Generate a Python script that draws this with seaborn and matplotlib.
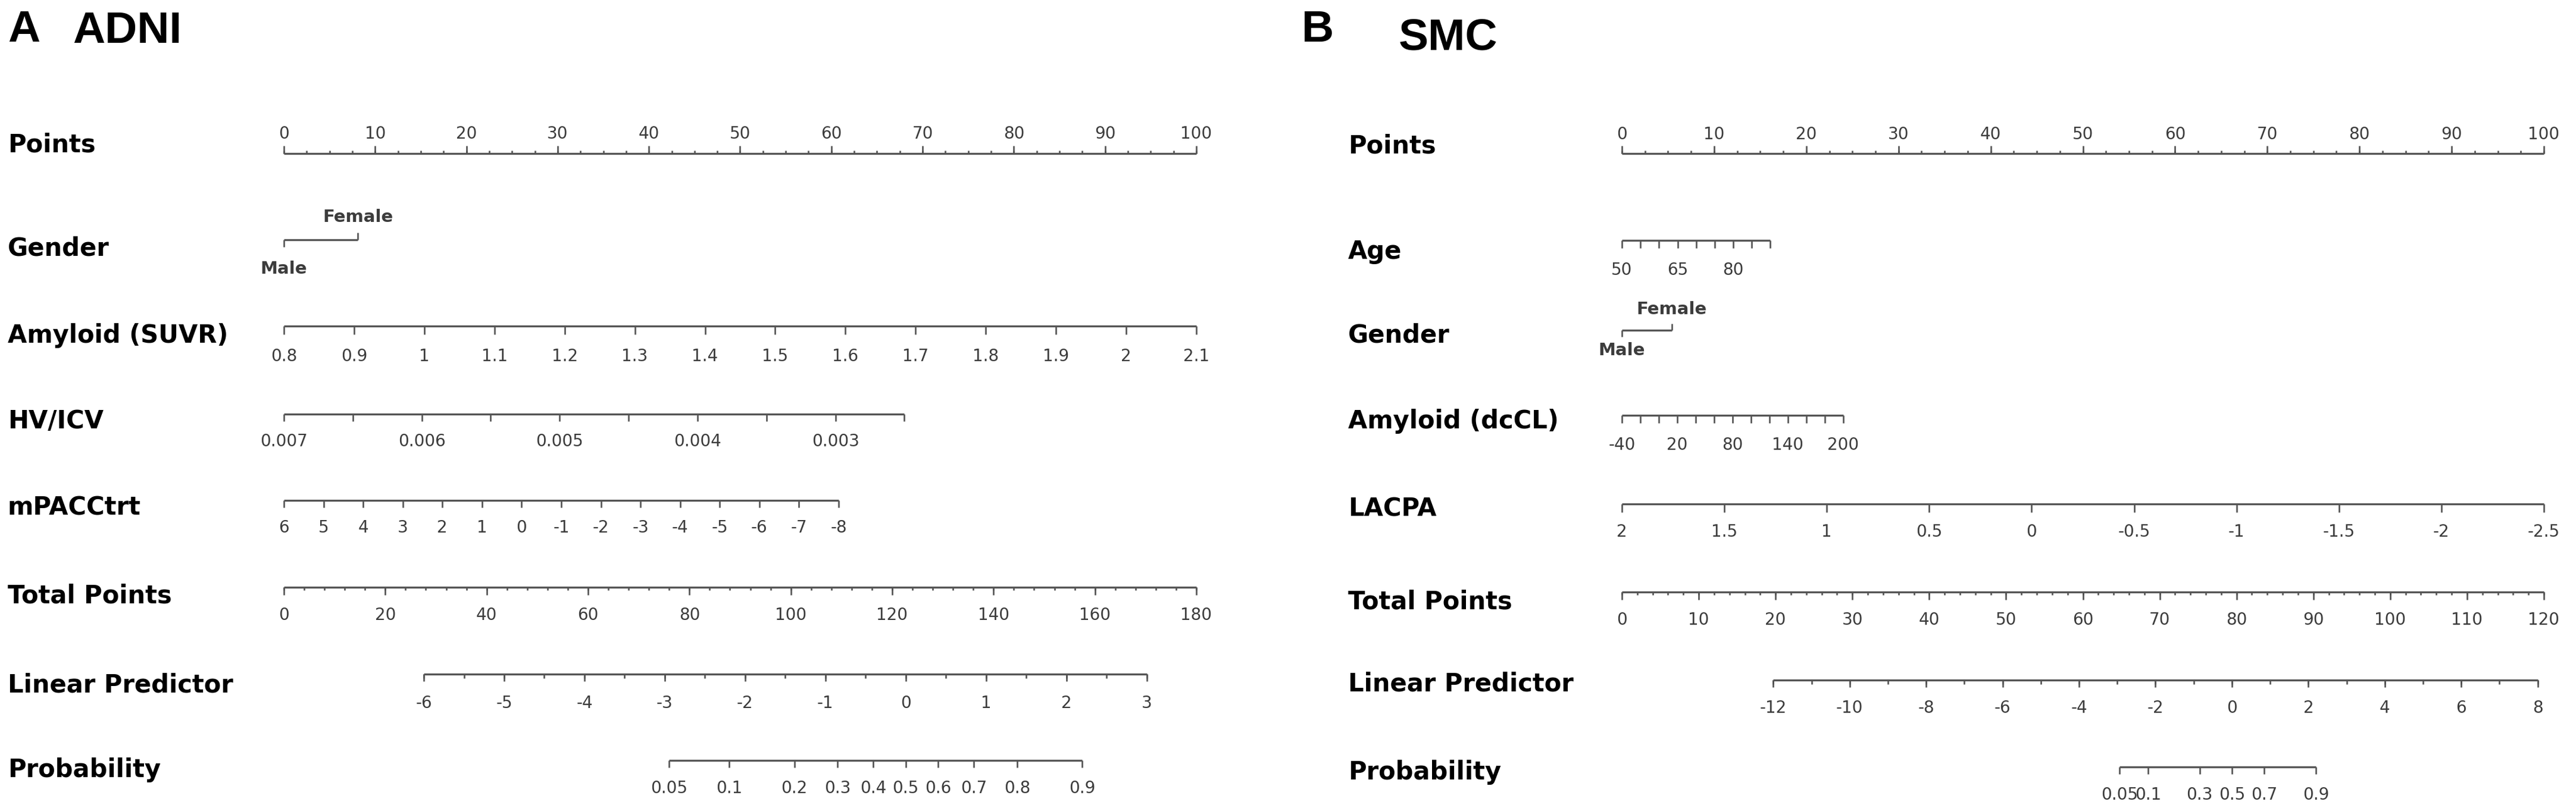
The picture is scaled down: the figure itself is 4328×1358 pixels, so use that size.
import numpy as np
import pandas as pd
import matplotlib
matplotlib.use("Agg")
import matplotlib.pyplot as plt
import seaborn as sns

W, H = 4328, 1358

# ---------------- Panel A : ADNI ----------------
adni_points = [0, 10, 20, 30, 40, 50, 60, 70, 80, 90, 100]
adni_gender = ["Male", "Female"]
adni_gender_pts = [0, 8.1]
adni_suvr = [0.8, 0.9, 1, 1.1, 1.2, 1.3, 1.4, 1.5, 1.6, 1.7, 1.8, 1.9, 2, 2.1]
adni_suvr_pts = [0, 100]            # points at 0.8 and 2.1
adni_hv = [0.007, 0.0065, 0.006, 0.0055, 0.005, 0.0045, 0.004, 0.0035, 0.003, 0.0025]
adni_hv_lab = [0.007, 0.006, 0.005, 0.004, 0.003]
adni_hv_pts = [0, 68.0]             # points at 0.007 and 0.0025
adni_mpacc = [6, 5, 4, 3, 2, 1, 0, -1, -2, -3, -4, -5, -6, -7, -8]
adni_mpacc_pts = [0, 60.8]          # points at 6 and -8
adni_total = [0, 20, 40, 60, 80, 100, 120, 140, 160, 180]
adni_lp = [-6, -5, -4, -3, -2, -1, 0, 1, 2, 3]
adni_lp_total = [27.6, 170.2]       # total points at -6 and 3
adni_prob = [0.05, 0.1, 0.2, 0.3, 0.4, 0.5, 0.6, 0.7, 0.8, 0.9]

# ---------------- Panel B : SMC ----------------
smc_points = [0, 10, 20, 30, 40, 50, 60, 70, 80, 90, 100]
smc_age = [50, 55, 60, 65, 70, 75, 80, 85, 90]
smc_age_lab = [50, 65, 80]
smc_age_pts = [0, 16.1]             # points at 50 and 90
smc_gender = ["Male", "Female"]
smc_gender_pts = [0, 5.4]
smc_dccl = [-40, -20, 0, 20, 40, 60, 80, 100, 120, 140, 160, 180, 200]
smc_dccl_lab = [-40, 20, 80, 140, 200]
smc_dccl_pts = [0, 24.0]            # points at -40 and 200
smc_lacpa = [2, 1.5, 1, 0.5, 0, -0.5, -1, -1.5, -2, -2.5]
smc_lacpa_pts = [0, 100]
smc_total = [0, 10, 20, 30, 40, 50, 60, 70, 80, 90, 100, 110, 120]
smc_lp = [-12, -10, -8, -6, -4, -2, 0, 2, 4, 6, 8]
smc_lp_total = [19.7, 119.2]        # total points at -12 and 8
smc_prob = [0.05, 0.1, 0.3, 0.5, 0.7, 0.9]

LINE = "#555555"
TICKTXT = "#3c3c3c"
LW = 2.4


def lin(v, v0, v1, p0, p1):
    v = np.asarray(v, dtype=float)
    return p0 + (v - v0) / (v1 - v0) * (p1 - p0)


def logit(p):
    p = np.asarray(p, dtype=float)
    return np.log(p / (1 - p))


def fmt(v):
    return f"{v:g}"


def hline(ax, x0, x1, y):
    df = pd.DataFrame({"x": [x0, x1], "y": [y, y]})
    sns.lineplot(data=df, x="x", y="y", ax=ax, color=LINE, linewidth=LW,
                 solid_capstyle="butt")


def scale_row(ax, y, ticks, labels_x, labels, base, minor=None,
              tlen=14, mlen=6, up=False):
    ticks = np.asarray(ticks, dtype=float)
    hline(ax, ticks.min(), ticks.max(), y)
    sgn = -1 if up else 1
    ax.vlines(ticks, y, y + sgn * tlen, color=LINE, linewidth=LW * 0.8)
    if minor is not None:
        ax.vlines(minor, y, y + sgn * mlen, color=LINE, linewidth=LW * 0.8)
    for xv, lab in zip(labels_x, labels):
        ax.text(xv, base, lab, ha="center", va="baseline", fontsize=20,
                color=TICKTXT, clip_on=False)


def var_label(ax, px, base, text, to_pts):
    ax.text(to_pts(px), base, text, ha="left", va="baseline", fontsize=30,
            fontweight="bold", color="black", clip_on=False)


def gender_row(ax, y, pts, names, male_base, female_base, tl):
    hline(ax, pts[0], pts[1], y)
    ax.vlines(pts[0], y, y + tl, color=LINE, linewidth=LW * 0.8)
    ax.vlines(pts[1], y, y - tl, color=LINE, linewidth=LW * 0.8)
    ax.text(pts[0], male_base, names[0], ha="center", va="baseline",
            fontsize=21, fontweight="bold", color=TICKTXT)
    ax.text(pts[1], female_base, names[1], ha="center", va="baseline",
            fontsize=21, fontweight="bold", color=TICKTXT)


def make_axes(fig, px0, px100):
    s = (px100 - px0) / 100.0
    ax = fig.add_axes([0, 0, 1, 1])
    ax.patch.set_alpha(0)
    ax.set_axis_off()
    lims = (-px0 / s, (W - px0) / s)
    return ax, lims, (lambda px: (px - px0) / s)


sns.set_theme(style="white")
plt.rcParams["font.family"] = ["DejaVu Sans"]

fig = plt.figure(figsize=(W / 100, H / 100), dpi=100)

# ======================= A: ADNI =======================
ax, lims, p = make_axes(fig, 477, 2010)
LX = 13

var_label(ax, LX, 255, "Points", p)
scale_row(ax, 258, adni_points, adni_points, [fmt(v) for v in adni_points], 233,
          minor=np.arange(0, 100.1, 2.5), tlen=13, mlen=5, up=True)

var_label(ax, LX, 430, "Gender", p)
gender_row(ax, 403, adni_gender_pts, adni_gender, 460, 373, 12)

var_label(ax, LX, 576, "Amyloid (SUVR)", p)
sx = lin(adni_suvr, adni_suvr[0], adni_suvr[-1], *adni_suvr_pts)
scale_row(ax, 548, sx, sx, [fmt(v) for v in adni_suvr], 607)

var_label(ax, LX, 720, "HV/ICV", p)
hx = lin(adni_hv, adni_hv[0], adni_hv[-1], *adni_hv_pts)
hlx = lin(adni_hv_lab, adni_hv[0], adni_hv[-1], *adni_hv_pts)
scale_row(ax, 696, hx, hlx, [fmt(v) for v in adni_hv_lab], 750, tlen=12)

var_label(ax, LX, 865, "mPACCtrt", p)
mx = lin(adni_mpacc, adni_mpacc[0], adni_mpacc[-1], *adni_mpacc_pts)
scale_row(ax, 841, mx, mx, [fmt(v) for v in adni_mpacc], 895, tlen=12)

var_label(ax, LX, 1013, "Total Points", p)
tx = lin(adni_total, 0, 180, 0, 100)
scale_row(ax, 987, tx, tx, [fmt(v) for v in adni_total], 1042,
          minor=lin(np.arange(0, 180.1, 4), 0, 180, 0, 100), tlen=13, mlen=5)

var_label(ax, LX, 1163, "Linear Predictor", p)
lp_tot = lin(adni_lp, adni_lp[0], adni_lp[-1], *adni_lp_total)
lx = lin(lp_tot, 0, 180, 0, 100)
lmin = lin(lin(np.arange(-6, 3.01, 0.5), adni_lp[0], adni_lp[-1], *adni_lp_total), 0, 180, 0, 100)
scale_row(ax, 1133, lx, lx, [fmt(v) for v in adni_lp], 1190, minor=lmin,
          tlen=12, mlen=7)

var_label(ax, LX, 1306, "Probability", p)
pr_tot = lin(logit(adni_prob), adni_lp[0], adni_lp[-1], *adni_lp_total)
px_ = lin(pr_tot, 0, 180, 0, 100)
scale_row(ax, 1278, px_, px_, [fmt(v) for v in adni_prob], 1333, tlen=12)

ax.set_xlim(*lims)
ax.set_ylim(H, 0)

# ======================= B: SMC =======================
ax, lims, p = make_axes(fig, 2725, 4274)
RX = 2265

var_label(ax, RX, 257, "Points", p)
scale_row(ax, 258, smc_points, smc_points, [fmt(v) for v in smc_points], 234,
          minor=np.arange(0, 100.1, 2.5), tlen=13, mlen=5, up=True)

var_label(ax, RX, 435, "Age", p)
ax_ = lin(smc_age, smc_age[0], smc_age[-1], *smc_age_pts)
alx = lin(smc_age_lab, smc_age[0], smc_age[-1], *smc_age_pts)
scale_row(ax, 404, ax_, alx, [fmt(v) for v in smc_age_lab], 462, tlen=13)

var_label(ax, RX, 576, "Gender", p)
gender_row(ax, 555, smc_gender_pts, smc_gender, 597, 528, 11)

var_label(ax, RX, 720, "Amyloid (dcCL)", p)
dx = lin(smc_dccl, smc_dccl[0], smc_dccl[-1], *smc_dccl_pts)
dlx = lin(smc_dccl_lab, smc_dccl[0], smc_dccl[-1], *smc_dccl_pts)
scale_row(ax, 698, dx, dlx, [fmt(v) for v in smc_dccl_lab], 756, tlen=13)

var_label(ax, RX, 868, "LACPA", p)
cx = lin(smc_lacpa, smc_lacpa[0], smc_lacpa[-1], *smc_lacpa_pts)
scale_row(ax, 847, cx, cx, [fmt(v) for v in smc_lacpa], 902, tlen=14)

var_label(ax, RX, 1023, "Total Points", p)
tx = lin(smc_total, 0, 120, 0, 100)
scale_row(ax, 995, tx, tx, [fmt(v) for v in smc_total], 1050,
          minor=lin(np.arange(0, 120.1, 2), 0, 120, 0, 100), tlen=13, mlen=5)

var_label(ax, RX, 1162, "Linear Predictor", p)
lp_tot = lin(smc_lp, smc_lp[0], smc_lp[-1], *smc_lp_total)
lx = lin(lp_tot, 0, 120, 0, 100)
lmin = lin(lin(np.arange(-12, 8.01, 1), smc_lp[0], smc_lp[-1], *smc_lp_total), 0, 120, 0, 100)
scale_row(ax, 1143, lx, lx, [fmt(v) for v in smc_lp], 1198, minor=lmin,
          tlen=12, mlen=7)

var_label(ax, RX, 1310, "Probability", p)
pr_tot = lin(logit(smc_prob), smc_lp[0], smc_lp[-1], *smc_lp_total)
px_ = lin(pr_tot, 0, 120, 0, 100)
scale_row(ax, 1289, px_, px_, [fmt(v) for v in smc_prob], 1344, tlen=12)

ax.set_xlim(*lims)
ax.set_ylim(H, 0)

# panel titles
title_kw = dict(fontsize=54, fontweight="bold", va="baseline", color="black",
                family=["Liberation Sans", "DejaVu Sans"])
fig.text(13 / W, 1 - 70 / H, "A", **title_kw)
fig.text(122 / W, 1 - 72 / H, "ADNI", **title_kw)
fig.text(2187 / W, 1 - 70 / H, "B", **title_kw)
fig.text(2350 / W, 1 - 83 / H, "SMC", **title_kw)

fig.savefig("out.png", dpi=100, facecolor="white")
